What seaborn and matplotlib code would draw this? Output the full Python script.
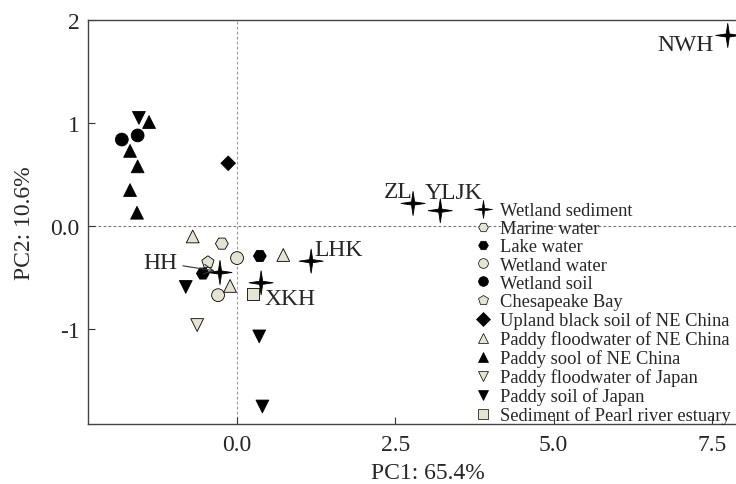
import numpy as np
import pandas as pd
import matplotlib
matplotlib.use("Agg")
import matplotlib.pyplot as plt
from matplotlib.path import Path
from matplotlib.lines import Line2D
import seaborn as sns

sns.set_theme(style="white")
plt.rcParams['font.family'] = ['Liberation Serif', 'DejaVu Serif']

# PCA scores
groups = ["Wetland sediment", "Marine water", "Lake water", "Wetland water",
          "Wetland soil", "Chesapeake Bay", "Upland black soil of NE China",
          "Paddy floodwater of NE China", "Paddy sool of NE China",
          "Paddy floodwater of Japan", "Paddy soil of Japan",
          "Sediment of Pearl river estuary"]

pc1 = {
    "Wetland sediment": [7.75, 2.78, 3.21, 1.17, -0.27, 0.38],
    "Marine water": [-0.24],
    "Lake water": [0.36, -0.54],
    "Wetland water": [0.0, -0.30],
    "Wetland soil": [-1.82, -1.57],
    "Chesapeake Bay": [-0.46],
    "Upland black soil of NE China": [-0.14],
    "Paddy floodwater of NE China": [-0.70, 0.73, -0.11],
    "Paddy sool of NE China": [-1.39, -1.69, -1.57, -1.69, -1.58],
    "Paddy floodwater of Japan": [-0.63],
    "Paddy soil of Japan": [-1.55, -0.81, 0.35, 0.40],
    "Sediment of Pearl river estuary": [0.25],
}
pc2 = {
    "Wetland sediment": [1.85, 0.22, 0.15, -0.34, -0.45, -0.55],
    "Marine water": [-0.17],
    "Lake water": [-0.29, -0.46],
    "Wetland water": [-0.31, -0.67],
    "Wetland soil": [0.84, 0.88],
    "Chesapeake Bay": [-0.35],
    "Upland black soil of NE China": [0.61],
    "Paddy floodwater of NE China": [-0.10, -0.28, -0.58],
    "Paddy sool of NE China": [1.01, 0.73, 0.58, 0.35, 0.13],
    "Paddy floodwater of Japan": [-0.96],
    "Paddy soil of Japan": [1.05, -0.59, -1.07, -1.75],
    "Sediment of Pearl river estuary": [-0.66],
}
site_names = ["NWH", "ZL", "YLJK", "LHK", "HH", "XKH"]

x_ticks = [0, 2.5, 5, 7.5]
x_ticklabels = ["0.0", "2.5", "5.0", "7.5"]
y_ticks = [-1, 0, 1, 2]
y_ticklabels = ["-1", "0.0", "1", "2"]

# styling
light = "#e6e3d3"
star = Path([(0, 1), (0.13, 0.13), (1, 0), (0.13, -0.13), (0, -1),
             (-0.13, -0.13), (-1, 0), (-0.13, 0.13), (0, 1)],
            [Path.MOVETO] + [Path.LINETO] * 7 + [Path.CLOSEPOLY])
markers = {"Wetland sediment": star, "Marine water": "H", "Lake water": "H",
           "Wetland water": "o", "Wetland soil": "o", "Chesapeake Bay": "p",
           "Upland black soil of NE China": "D",
           "Paddy floodwater of NE China": "^", "Paddy sool of NE China": "^",
           "Paddy floodwater of Japan": "v", "Paddy soil of Japan": "v",
           "Sediment of Pearl river estuary": "s"}
colors = {"Wetland sediment": "black", "Marine water": light, "Lake water": "black",
          "Wetland water": light, "Wetland soil": "black", "Chesapeake Bay": light,
          "Upland black soil of NE China": "black",
          "Paddy floodwater of NE China": light, "Paddy sool of NE China": "black",
          "Paddy floodwater of Japan": light, "Paddy soil of Japan": "black",
          "Sediment of Pearl river estuary": light}
sizes = {g: 85 for g in groups}
sizes["Wetland sediment"] = 300
sizes["Upland black soil of NE China"] = 55
sizes["Sediment of Pearl river estuary"] = 75

rows = []
for g in groups:
    for a, b in zip(pc1[g], pc2[g]):
        rows.append((g, a, b))
df = pd.DataFrame(rows, columns=["group", "PC1", "PC2"])

fig = plt.figure(figsize=(7.36, 4.85), dpi=100)
ax = fig.add_axes([88 / 736, 1 - 425 / 485, 648 / 736, 404 / 485])

ax.axhline(0, color="#777777", lw=0.8, ls=(0, (2.5, 2)), zorder=0)
ax.axvline(0, color="#999999", lw=0.8, ls=(0, (2.5, 2)), zorder=0)

sns.scatterplot(data=df, x="PC1", y="PC2", hue="group", style="group", size="group",
                palette=colors, markers=markers, sizes=sizes, hue_order=groups,
                style_order=groups, size_order=groups, edgecolor="black",
                linewidth=0.6, legend=False, ax=ax, zorder=3)

ws_x = pc1["Wetland sediment"]
ws_y = pc2["Wetland sediment"]
fs = 17
ax.text(ws_x[0] - 0.22, ws_y[0] - 0.09, site_names[0], ha="right", va="center", fontsize=fs)
ax.text(ws_x[1] - 0.01, ws_y[1] + 0.12, site_names[1], ha="right", va="center", fontsize=fs)
ax.text(ws_x[2] - 0.24, ws_y[2] + 0.18, site_names[2], ha="left", va="center", fontsize=fs)
ax.text(ws_x[3] + 0.05, ws_y[3] + 0.11, site_names[3], ha="left", va="center", fontsize=fs)
ax.text(ws_x[5] + 0.05, ws_y[5] - 0.15, site_names[5], ha="left", va="center", fontsize=fs)
ax.annotate(site_names[4], xy=(ws_x[4] - 0.02, ws_y[4] + 0.01),
            xytext=(ws_x[4] - 0.68, ws_y[4] + 0.10), ha="right", va="center",
            fontsize=fs, arrowprops=dict(arrowstyle="->", lw=0.8, color="#333333",
                                         shrinkA=2, shrinkB=3))

ax.set_xlim(-2.354, 7.88)
ax.set_ylim(-1.92, 2.0)
ax.set_xticks(x_ticks)
ax.set_xticklabels(x_ticklabels)
ax.set_yticks(y_ticks)
ax.set_yticklabels(y_ticklabels)
ax.tick_params(direction="in", length=5, width=0.8, color="#333333",
               labelsize=17, bottom=True, left=True)
ax.tick_params(axis="x", pad=7)
ax.tick_params(axis="y", pad=6)
ax.set_xlabel("PC1: 65.4%", fontsize=17)
ax.set_ylabel("PC2: 10.6%", fontsize=17)
ax.xaxis.set_label_coords((428 - 88) / 648, -0.095)
ax.yaxis.set_label_coords(-(88 - 35) / 648, 0.5)
for side in ["left", "bottom", "top"]:
    ax.spines[side].set_color("#444444")
    ax.spines[side].set_linewidth(1.0)
ax.spines["right"].set_visible(False)

handles = [Line2D([], [], ls="none", marker=markers[g],
                  markersize=13 if g == "Wetland sediment" else 7,
                  markerfacecolor=colors[g], markeredgecolor="black",
                  markeredgewidth=0.5) for g in groups]
ax.legend(handles, groups, loc="upper left", frameon=False, fontsize=13.3,
          handlelength=1.0, handletextpad=0.4, labelspacing=0.065, borderpad=0,
          borderaxespad=0, bbox_to_anchor=(474 / 736, 1 - 203 / 485),
          bbox_transform=fig.transFigure)

fig.savefig("out.png", dpi=100)
